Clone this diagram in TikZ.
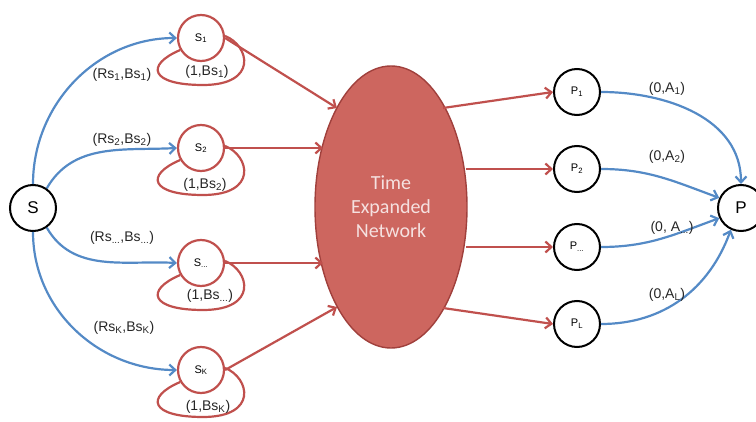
\documentclass[tikz,border=0pt]{standalone}
\usepackage{fontspec}
\setmainfont{Liberation Sans}
\newfontfamily\calib{Carlito}
\usetikzlibrary{arrows.meta,shapes.geometric}
\definecolor{redline}{RGB}{192,80,77}
\definecolor{netfill}{RGB}{205,102,95}
\definecolor{netdraw}{RGB}{160,64,60}
\definecolor{blueline}{RGB}{84,138,198}
\definecolor{nettext}{RGB}{245,225,224}
\tikzset{
  bignode/.style={circle,draw=black,line width=2pt,minimum size=46pt,inner sep=0pt,font=\fontsize{17}{17}\selectfont},
  snode/.style={circle,draw=redline,line width=2.2pt,minimum size=46pt,inner sep=0pt,font=\fontsize{11}{11}\selectfont},
  pnode/.style={circle,draw=black,line width=2pt,minimum size=46pt,inner sep=0pt,font=\fontsize{11}{11}\selectfont},
  redarrow/.style={draw=redline,line width=2.2pt,-{Straight Barb[length=6pt,width=11pt]}},
  bluearrow/.style={draw=blueline,line width=2.2pt,-{Straight Barb[length=6pt,width=11pt]}},
  loopline/.style={draw=redline,line width=2.2pt},
  lbl/.style={font=\fontsize{14}{14}\selectfont,inner sep=0pt,text=black!85}
}
\newcommand{\sbs}[1]{\textsubscript{#1}}
\begin{document}
\begin{tikzpicture}[x=1pt,y=-1pt]
\useasboundingbox (0,0) rectangle (756,422);

% source, sink and the network
\node[bignode] (s) at (33,208) {S};
\node[bignode] (p) at (741,208) {P};
\node[ellipse,fill=netfill,draw=netdraw,line width=1.4pt,minimum width=152pt,minimum height=282pt,inner sep=0pt,
      align=center,text=nettext,font=\calib\fontsize{20}{24}\selectfont] (net) at (391,207) {Time\\Expanded\\Network};

% source-side nodes
\node[snode] (s1) at (201,38) {S\sbs{1}};
\node[snode] (s2) at (201,148) {S\sbs{2}};
\node[snode] (sd) at (201,263) {S\sbs{...}};
\node[snode] (sk) at (201,370) {S\sbs{K}};

% sink-side nodes
\node[pnode] (p1) at (577,92) {P\sbs{1}};
\node[pnode] (p2) at (577,169) {P\sbs{2}};
\node[pnode] (pd) at (577,247) {P\sbs{...}};
\node[pnode] (pl) at (577,324) {P\sbs{L}};

% self loops below the source-side nodes
\foreach \n/\y in {s1/38,s2/148,sd/263,sk/370}{
  \draw[loopline] (\n.210) .. controls (145,\y+27) and (150,\y+47) .. (203,\y+47)
                         .. controls (258,\y+47) and (250,\y+8) .. (\n.5);
}

% blue arcs from the source
\draw[bluearrow] (s.north) to[out=90,in=180] (s1.west);
\draw[bluearrow] (s.55) to[out=60,in=183] (s2.west);
\draw[bluearrow] (s.-55) to[out=-60,in=177] (sd.west);
\draw[bluearrow] (s.south) to[out=-90,in=180] (sk.west);

% red arcs into the network
\coordinate (n1) at (337,108);
\coordinate (n2) at (323,148);
\coordinate (n3) at (323,263);
\coordinate (n4) at (337,307);
\draw[redarrow] (s1.east) -- (n1);
\draw[redarrow] (s2.east) -- (n2);
\draw[redarrow] (sd.east) -- (n3);
\draw[redarrow] (sk.east) -- (n4);

% red arcs out of the network
\coordinate (m1) at (443,108);
\coordinate (m2) at (466,169);
\coordinate (m3) at (466,247);
\coordinate (m4) at (443,308);
\draw[redarrow] (m1) -- (p1.west);
\draw[redarrow] (m2) -- (p2.west);
\draw[redarrow] (m3) -- (pd.west);
\draw[redarrow] (m4) -- (pl.west);

% blue arcs into the sink
\draw[bluearrow] (p1.east) to[out=0,in=90] (p.north);
\draw[bluearrow] (p2.east) to[out=0,in=160] (p.155);
\draw[bluearrow] (pd.east) to[out=0,in=200] (p.205);
\draw[bluearrow] (pl.east) to[out=0,in=-110] (p.245);

% arc labels
\node[lbl] (l1) at (122,75) {(Rs\sbs{1},Bs\sbs{1})};
\node[lbl] (l2) at (122,140) {(Rs\sbs{2},Bs\sbs{2})};
\node[lbl] (l3) at (122,238) {(Rs\sbs{...},Bs\sbs{...})};
\node[lbl] (l4) at (124,328) {(Rs\sbs{K},Bs\sbs{K})};
\node[lbl] (b1) at (207,72) {(1,Bs\sbs{1})};
\node[lbl] (b2) at (205,185) {(1,Bs\sbs{2})};
\node[lbl] (b3) at (210,296) {(1,Bs\sbs{...})};
\node[lbl] (b4) at (208,407) {(1,Bs\sbs{K})};
\node[lbl] (a1) at (667,89) {(0,A\sbs{1})};
\node[lbl] (a2) at (667,157) {(0,A\sbs{2})};
\node[lbl] (a3) at (672,228) {(0, A\sbs{...})};
\node[lbl] (a4) at (667,295) {(0,A\sbs{L})};
\end{tikzpicture}
\end{document}
